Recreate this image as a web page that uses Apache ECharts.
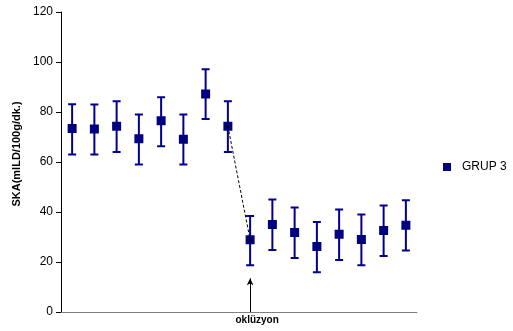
<!DOCTYPE html>
<html>
<head>
<meta charset="utf-8">
<script src="https://cdn.jsdelivr.net/npm/echarts@6/dist/echarts.min.js"></script>
<style>html,body{margin:0;padding:0;background:#fff}#c{width:513px;height:331px}</style>
</head>
<body>
<div id="c"></div>
<script>
var categories = ['', '', '', '', '', '', '', '', 'oklüzyon', '', '', '', '', '', '', ''];
var means = [73.4, 73.2, 74.3, 69.3, 76.5, 69.1, 87.2, 74.3, 28.9, 35.0, 31.8, 26.2, 31.1, 29.0, 32.6, 34.7];
var upper = [83.1, 83.0, 84.3, 79.0, 85.9, 79.0, 97.1, 84.3, 38.4, 45.0, 41.8, 36.0, 41.0, 39.0, 42.6, 44.7];
var lower = [63.0, 63.0, 64.0, 59.0, 66.3, 59.0, 77.2, 64.0, 18.7, 24.8, 21.6, 15.9, 20.8, 18.7, 22.4, 24.6];
var yTicks = [0, 20, 40, 60, 80, 100, 120];
var seriesName = 'GRUP 3';
var yTitle = 'SKA(mlLD/100g/dk.)';
var dropFrom = 7, dropTo = 8;
var arrowIndex = 8, arrowTop = 13.5;

var dashedData = means.map(function (v, i) { return (i === dropFrom || i === dropTo) ? v : null; });
var errData = means.map(function (v, i) { return [i, lower[i], upper[i]]; });

var chart = echarts.init(document.getElementById('c'));
chart.setOption({
  animation: false,
  grid: { left: 61, right: 96, top: 12, bottom: 19, containLabel: false },
  legend: {
    data: [{ name: seriesName, icon: 'rect' }],
    orient: 'vertical', left: 438, top: 156,
    itemWidth: 8, itemHeight: 8, itemGap: 6,
    textStyle: { fontFamily: 'Liberation Sans, Arial', fontSize: 12, color: '#000', padding: [0, 0, 0, 6] }
  },
  xAxis: {
    type: 'category', data: categories, boundaryGap: true,
    axisLine: { lineStyle: { color: '#808080', width: 1 } },
    axisTick: { show: false },
    axisLabel: { interval: 0, margin: 3, padding: [0, 0, 0, 14], fontFamily: 'Liberation Sans, Arial', fontSize: 10, fontWeight: 'bold', color: '#000' }
  },
  yAxis: {
    type: 'value', min: yTicks[0], max: yTicks[yTicks.length - 1], interval: yTicks[1] - yTicks[0],
    name: yTitle, nameLocation: 'middle', nameGap: 34,
    nameTextStyle: { fontFamily: 'Liberation Sans, Arial', fontSize: 11, fontWeight: 'bold', color: '#000', padding: [0, 0, 0, 16] },
    axisLine: { show: true, lineStyle: { color: '#000', width: 1 } },
    axisTick: { show: true, length: 5, lineStyle: { color: '#000' } },
    splitLine: { show: false },
    axisLabel: { margin: 8, fontFamily: 'Liberation Sans, Arial', fontSize: 12, color: '#000' }
  },
  series: [
    {
      type: 'custom', name: 'err', data: errData, z: 2,
      renderItem: function (params, api) {
        var x = api.value(0);
        var lo = api.coord([x, api.value(1)]);
        var hi = api.coord([x, api.value(2)]);
        var hw = 4;
        var st = { stroke: '#000090', lineWidth: 2 };
        return { type: 'group', children: [
          { type: 'line', shape: { x1: hi[0], y1: hi[1], x2: lo[0], y2: lo[1] }, style: st },
          { type: 'line', shape: { x1: hi[0] - hw, y1: hi[1], x2: hi[0] + hw, y2: hi[1] }, style: st },
          { type: 'line', shape: { x1: lo[0] - hw, y1: lo[1], x2: lo[0] + hw, y2: lo[1] }, style: st }
        ]};
      },
      silent: true
    },
    {
      type: 'scatter', name: seriesName, data: means, symbol: 'rect', symbolSize: 9, z: 3,
      itemStyle: { color: '#000080', opacity: 1 }
    },
    {
      type: 'line', name: 'drop', data: dashedData, connectNulls: false, z: 4,
      symbol: 'circle', symbolSize: 3, showSymbol: true,
      itemStyle: { color: '#000' },
      lineStyle: { color: '#000', width: 1, type: [3, 2] },
      markLine: {
        silent: true, symbol: ['none', 'arrow'], symbolSize: [5, 7],
        label: { show: false },
        lineStyle: { color: '#000', width: 1, type: 'solid' },
        data: [[{ coord: [arrowIndex, 0] }, { coord: [arrowIndex, arrowTop] }]]
      }
    }
  ]
});
</script>
</body>
</html>
